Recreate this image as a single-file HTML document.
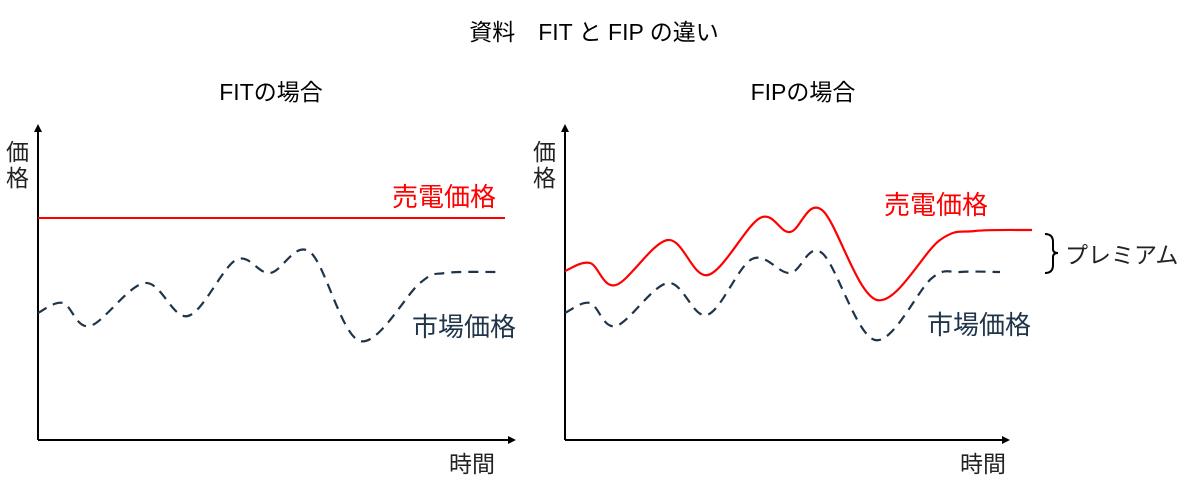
<!DOCTYPE html>
<html><head><meta charset="utf-8"><style>
html,body{margin:0;padding:0;background:#fff;}
svg{display:block;font-family:"Liberation Sans","Noto Sans CJK JP",sans-serif;}
</style></head><body>
<svg id="s" width="1189" height="485" viewBox="0 0 1189 485" xmlns="http://www.w3.org/2000/svg">
<defs><marker id="ar" markerWidth="8" markerHeight="8" refX="6" refY="4" orient="auto" markerUnits="userSpaceOnUse"><path d="M0,0 L8,4 L0,8 z" fill="#000"/></marker></defs>
<text x="594" y="40" font-size="23" text-anchor="middle" fill="#000">資料　FIT と FIP の違い</text>
<text x="271" y="100" font-size="23" text-anchor="middle" fill="#000">FITの場合</text>
<text x="803" y="100" font-size="23" text-anchor="middle" fill="#000">FIPの場合</text>
<line x1="38" y1="440" x2="38" y2="126" stroke="#000" stroke-width="2" marker-end="url(#ar)"/>
<line x1="38" y1="440" x2="514" y2="440" stroke="#000" stroke-width="2" marker-end="url(#ar)"/>
<line x1="565" y1="440" x2="565" y2="126" stroke="#000" stroke-width="2" marker-end="url(#ar)"/>
<line x1="565" y1="440" x2="1008" y2="440" stroke="#000" stroke-width="2" marker-end="url(#ar)"/>
<g font-size="23" fill="#222">
<text x="6" y="160">価</text><text x="6" y="186">格</text>
<text x="533" y="160">価</text><text x="533" y="186">格</text>
<text x="449" y="472">時間</text><text x="960" y="472">時間</text>
</g>
<line x1="38" y1="218" x2="505" y2="218" stroke="#f00" stroke-width="2"/>
<text x="392" y="206" font-size="26" fill="#f00">売電価格</text>
<text x="412" y="336" font-size="26" fill="#1f3449">市場価格</text>
<text x="884" y="214" font-size="26" fill="#f00">売電価格</text>
<text x="927" y="334" font-size="26" fill="#1f3449">市場価格</text>
<path id="p1" fill="none" stroke="#1f3449" stroke-width="2.2" stroke-dasharray="10,7"/>
<path id="p2" fill="none" stroke="#1f3449" stroke-width="2.2" stroke-dasharray="10,7"/>
<path id="p3" fill="none" stroke="#f00" stroke-width="2.2"/>
<path d="M1045,234 Q1053,234 1053,242 L1053,249 Q1053,253 1058,253 Q1053,253 1053,257 L1053,265 Q1053,273 1045,273" fill="none" stroke="#000" stroke-width="2"/>
<text x="1065" y="263" font-size="23" fill="#222">プレミアム</text>
</svg>
<script>
function cr(p){var d="M"+p[0][0]+","+p[0][1];for(var i=0;i<p.length-1;i++){var a=p[i-1]||p[i],b=p[i],c=p[i+1],e=p[i+2]||c;
d+=" C"+(b[0]+(c[0]-a[0])/6)+","+(b[1]+(c[1]-a[1])/6)+" "+(c[0]-(e[0]-b[0])/6)+","+(c[1]-(e[1]-b[1])/6)+" "+c[0]+","+c[1];}return d;}
document.getElementById("p1").setAttribute("d",cr([[38,313],[63,303],[90,326],[145,283],[188,316],[236,260],[270,273],[310,252],[360,341],[420,283],[445,273],[500,272]]));
document.getElementById("p2").setAttribute("d",cr([[565,313],[590,303],[616,326],[668,283],[707,315],[752,259],[790,273],[822,253],[875,340],[932,278],[960,272],[1000,272]]));
document.getElementById("p3").setAttribute("d",cr([[565,271],[590,263],[616,285],[668,240],[708,275],[760,218],[790,232],[822,210],[877,300],[940,240],[975,231],[1032,230]]));
</script>
</body></html>
